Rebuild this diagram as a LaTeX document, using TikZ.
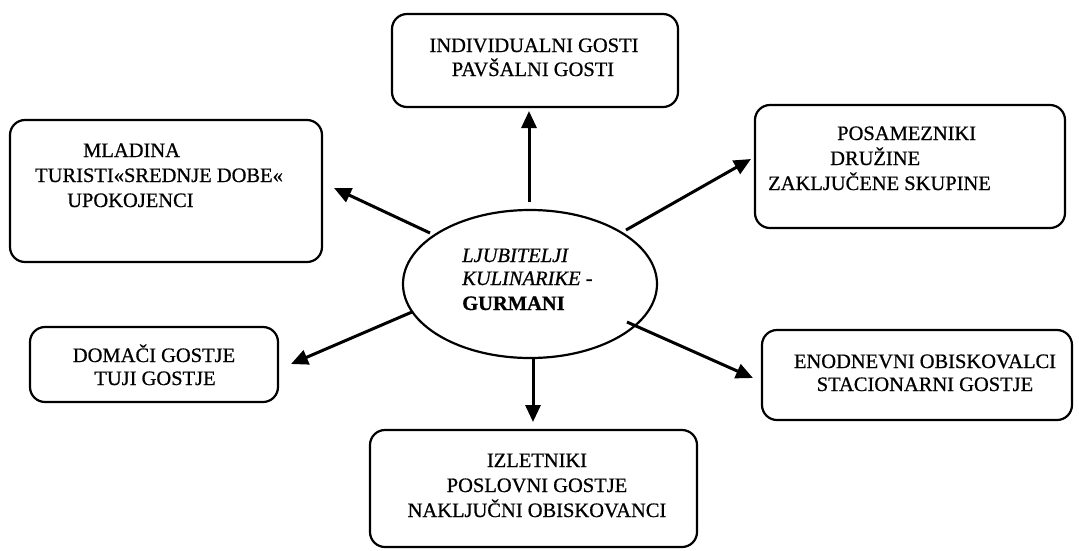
\documentclass[tikz,border=0pt]{standalone}
\usepackage{fontspec}
\setmainfont{Liberation Serif}[FakeBold=0.7]
\usetikzlibrary{arrows.meta,shapes.geometric}
\begin{document}
\begin{tikzpicture}[x=1pt,y=-1pt,
  box/.style={draw, line width=2.2pt, rounded corners=15pt, inner sep=0pt},
  ell/.style={draw, ellipse, line width=2.2pt, inner sep=0pt, minimum width=254pt, minimum height=148pt},
  txt/.style={inner sep=0pt, font=\fontsize{20.5}{25}\selectfont},
  arr/.style={line width=3pt, -{Triangle[length=17pt,width=15pt]}}]
\useasboundingbox (0,0) rectangle (1079,550);
% boxes
\node[box, minimum width=286pt, minimum height=93pt] (top) at (535,60.5) {};
\node[box, minimum width=312pt, minimum height=142pt] (ml) at (166,191) {};
\node[box, minimum width=310pt, minimum height=123pt] (rt) at (910,166.5) {};
\node[box, minimum width=248pt, minimum height=75pt] (dm) at (154,364.5) {};
\node[box, minimum width=310pt, minimum height=90pt] (en) at (917,375) {};
\node[box, minimum width=327pt, minimum height=117pt] (bt) at (533.5,488.5) {};
\node[ell] (ell) at (530,284) {};
% texts
\node[txt, anchor=base] (t1) at (534,52) {INDIVIDUALNI GOSTI};
\node[txt, anchor=base] (t2) at (533,76) {PAVŠALNI GOSTI};
\node[txt, anchor=base west] (m1) at (83,157) {MLADINA};
\node[txt, anchor=base west] (m2) at (35,182) {TURISTI«SREDNJE DOBE«};
\node[txt, anchor=base west] (m3) at (67,207) {UPOKOJENCI};
\node[txt, anchor=base west] (r1) at (837,140) {POSAMEZNIKI};
\node[txt, anchor=base west] (r2) at (830,165) {DRUŽINE};
\node[txt, anchor=base west] (r3) at (768,190) {ZAKLJUČENE SKUPINE};
\node[txt, anchor=base west] (e1) at (462,262) {\itshape LJUBITELJI};
\node[txt, anchor=base west] (e2) at (462,285) {\itshape KULINARIKE -};
\node[txt, anchor=base west] (e3) at (462,310) {\bfseries GURMANI};
\node[txt, anchor=base] (d1) at (154,362) {DOMAČI GOSTJE};
\node[txt, anchor=base] (d2) at (155,385) {TUJI GOSTJE};
\node[txt, anchor=base] (n1) at (925,368) {ENODNEVNI OBISKOVALCI};
\node[txt, anchor=base] (n2) at (925,391) {STACIONARNI GOSTJE};
\node[txt, anchor=base] (b1) at (537,467) {IZLETNIKI};
\node[txt, anchor=base] (b2) at (537,492) {POSLOVNI GOSTJE};
\node[txt, anchor=base] (b3) at (537,517) {NAKLJUČNI OBISKOVANCI};
% arrow ends
\coordinate (up0) at (529,202); \coordinate (up1) at (529,111);
\coordinate (tl0) at (430,233); \coordinate (tl1) at (334,188);
\coordinate (tr0) at (626,230); \coordinate (tr1) at (751,159);
\coordinate (bl0) at (412,312); \coordinate (bl1) at (291,364);
\coordinate (br0) at (627,322); \coordinate (br1) at (753,378);
\coordinate (dn0) at (533,358); \coordinate (dn1) at (533,422);
\draw[arr] (up0) -- (up1);
\draw[arr] (tl0) -- (tl1);
\draw[arr] (tr0) -- (tr1);
\draw[arr] (bl0) -- (bl1);
\draw[arr] (br0) -- (br1);
\draw[arr] (dn0) -- (dn1);
\end{tikzpicture}
\end{document}
